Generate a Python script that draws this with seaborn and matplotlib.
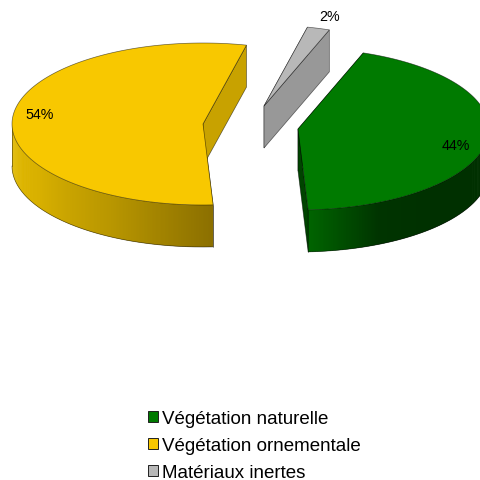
import numpy as np
import matplotlib
matplotlib.use("Agg")
import matplotlib.pyplot as plt
from matplotlib.patches import Patch, Polygon
import seaborn as sns

# data
categories = ["Végétation naturelle", "Végétation ornementale", "Matériaux inertes"]
values = [43.6, 54.5, 1.9]
percent_labels = ["44%", "54%", "2%"]
top_colors = ["#007A00", "#F8C800", "#B8B8B8"]
cut_colors = ["#004400", "#C8A200", "#989898"]
wall_ramps = [["#006400", "#003400", "#003000", "#003000", "#002C00"],
              ["#E4BC00", "#D8B000", "#B89600", "#8C7000"],
              ["#989898", "#989898"]]

# layout (pixels of the 481x481 figure)
START_ANGLE = 20.0
RX, RY, DEPTH = 191.0, 81.0, 42.0
centers = [(298, 130), (203, 125), (264, 107)]
label_xy = [(456, 146), (40, 115), (330, 17)]
EDGE = "#00000090"

sns.set_theme(style="white")
plt.rcParams["font.family"] = ["Liberation Sans", "DejaVu Sans"]

fig = plt.figure(figsize=(4.81, 4.81), dpi=100)
ax = fig.add_axes([0, 0, 1, 1])
ax.set_xlim(0, 481)
ax.set_ylim(481, 0)
ax.axis("off")


def rim(c, a):
    r = np.radians(a)
    return c[0] + RX * np.sin(r), c[1] - RY * np.cos(r)


total = sum(values)
spans = np.array(values) / total * 360
starts = START_ANGLE + np.concatenate([[0], np.cumsum(spans)[:-1]])

for idx in [2, 1, 0]:
    c = centers[idx]
    a0, a1 = starts[idx], starts[idx] + spans[idx]
    base = 10

    # straight cut faces
    for a in (a0, a1):
        x, y = rim(c, a)
        ax.add_patch(Polygon([c, (x, y), (x, y + DEPTH), (c[0], c[1] + DEPTH)],
                             closed=True, facecolor=cut_colors[idx], edgecolor=EDGE,
                             linewidth=0.5, zorder=base + 1))

    # curved outer wall with a horizontal gradient (front half only)
    lo, hi = max(a0, 90), min(a1, 270)
    if hi > lo:
        n = int(hi - lo) * 2
        grid = np.linspace(lo, hi, n + 1)
        ramp = sns.blend_palette(wall_ramps[idx], n)
        # every slice overlaps the following one so no seams show
        for i in range(n):
            seg = np.linspace(grid[i], grid[min(i + 2, n)], 5)
            xs, ys = rim(c, seg)
            col = ramp[n - 1 - i]
            pts = list(zip(xs, ys)) + list(zip(xs[::-1], ys[::-1] + DEPTH))
            ax.add_patch(Polygon(pts, closed=True, facecolor=col, edgecolor="none",
                                 zorder=base + 2 + i * 1e-3))
        g = np.linspace(lo, hi, 200)
        xs, ys = rim(c, g)
        ax.plot(xs, ys + DEPTH, color=EDGE, lw=0.5, zorder=base + 3)
        for a in (lo, hi):
            x, y = rim(c, a)
            ax.plot([x, x], [y, y + DEPTH], color=EDGE, lw=0.5, zorder=base + 3)

    # top face
    g = np.linspace(a0, a1, 200)
    xs, ys = rim(c, g)
    pts = [c] + list(zip(xs, ys))
    ax.add_patch(Polygon(pts, closed=True, facecolor=top_colors[idx], edgecolor=EDGE,
                         linewidth=0.5, zorder=base + 4))

for (x, y), s in zip(label_xy, percent_labels):
    ax.text(x, y, s, ha="center", va="center", fontsize=10.3, color="black", zorder=30)

handles = [Patch(facecolor=col, edgecolor="#202020", linewidth=0.7) for col in top_colors]
ax.legend(handles, categories, loc="center left", bbox_to_anchor=(148, 446.5),
          bbox_transform=ax.transData, frameon=False, fontsize=13.5,
          handlelength=0.53, handleheight=0.53, handletextpad=0.2,
          labelspacing=0.54, borderpad=0, borderaxespad=0, labelcolor="black")

fig.savefig("out.png", dpi=100, facecolor="white")
